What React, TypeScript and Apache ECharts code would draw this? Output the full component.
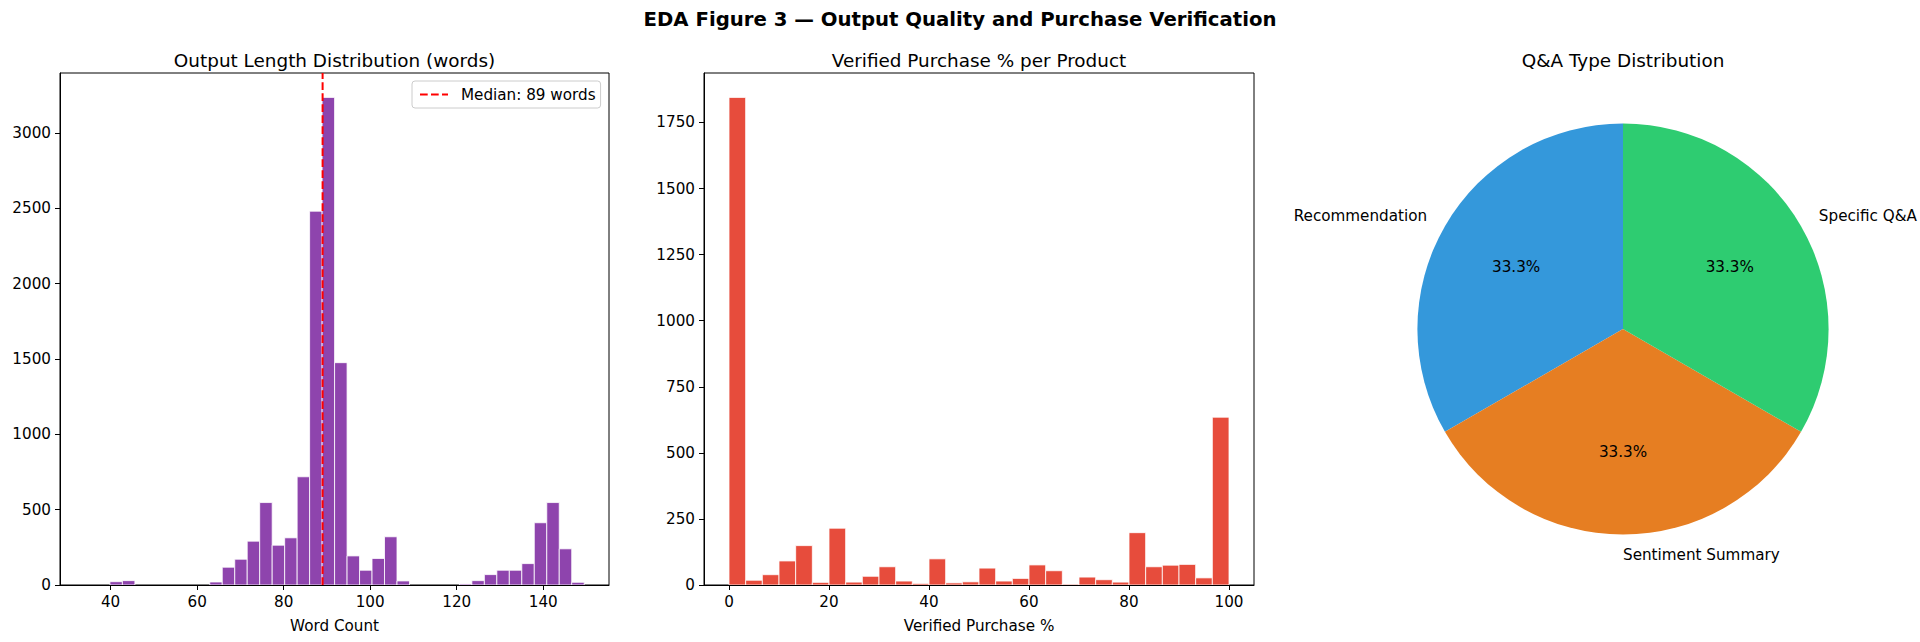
import React, { useEffect, useRef } from 'react';
import * as echarts from 'echarts';

// ---------- data ----------
const SUPTITLE = 'EDA Figure 3 — Output Quality and Purchase Verification';

// Panel 1: output length histogram (40 bins)
const LEN_TITLE = 'Output Length Distribution (words)';
const LEN_XLABEL = 'Word Count';
const LEN_BIN_MIN = 34.07;
const LEN_BIN_MAX = 149.47;
const LEN_COUNTS = [
  0, 0, 22, 29, 0, 0, 0, 0, 0, 0,
  20, 118, 171, 291, 547, 264, 313, 718, 2480, 3235,
  1475, 193, 98, 176, 320, 27, 0, 0, 0, 0,
  7, 29, 69, 98, 98, 142, 413, 547, 240, 18,
];
const LEN_MEDIAN = 89;
const LEN_MEDIAN_LABEL = 'Median: 89 words';
const LEN_X_RANGE = [28.3, 155.2];
const LEN_X_TICKS = [40, 60, 80, 100, 120, 140];
const LEN_Y_TICKS = [0, 500, 1000, 1500, 2000, 2500, 3000];

// Panel 2: verified purchase % histogram (30 bins)
const VP_TITLE = 'Verified Purchase % per Product';
const VP_XLABEL = 'Verified Purchase %';
const VP_BIN_MIN = 0;
const VP_BIN_MAX = 100;
const VP_COUNTS = [
  1845, 18, 39, 91, 149, 10, 215, 11, 33, 69,
  15, 6, 99, 8, 12, 64, 15, 25, 76, 54,
  3, 30, 20, 11, 198, 69, 75, 78, 27, 635,
];
const VP_X_RANGE = [-5, 105];
const VP_X_TICKS = [0, 20, 40, 60, 80, 100];
const VP_Y_TICKS = [0, 250, 500, 750, 1000, 1250, 1500, 1750];

// Panel 3: Q&A type pie
const QA_TITLE = 'Q&A Type Distribution';
const QA_TYPES = ['Recommendation', 'Sentiment Summary', 'Specific Q&A'];
const QA_VALUES = [1, 1, 1];
const QA_COLORS = ['#3498db', '#e67e22', '#2ecc71'];

// ---------- styling / layout ----------
const FONT = 'DejaVu Sans';
const TICK_FS = 15.2;
const TITLE_FS = 18.4;
const SUP_FS = 19.7;
const PURPLE = '#8e44ad';
const RED = '#e74c3c';
const DASH_ICON =
  'path://M0,0 L7.7,0 L7.7,2 L0,2 Z M11,0 L18.7,0 L18.7,2 L11,2 Z M22,0 L28,0 L28,2 L22,2 Z';

const G1 = { left: 60, top: 73, width: 549, height: 512 };
const G2 = { left: 704, top: 73, width: 550, height: 512 };
const PIE_C = [1623, 329];
const PIE_R = 205.6;

function histSeries(gi: number, min: number, max: number, counts: number[], color: string) {
  const w = (max - min) / counts.length;
  const data = counts.map((c, i) => [min + i * w, min + (i + 1) * w, c]);
  return {
    type: 'custom',
    xAxisIndex: gi,
    yAxisIndex: gi,
    data,
    encode: { x: [0, 1], y: 2 },
    silent: true,
    z: 2,
    renderItem: (_params: any, api: any) => {
      const c = api.value(2);
      if (!(c > 0)) return { type: 'group', children: [] };
      const p0 = api.coord([api.value(0), c]);
      const p1 = api.coord([api.value(1), 0]);
      return {
        type: 'rect',
        shape: { x: p0[0], y: p0[1], width: p1[0] - p0[0], height: p1[1] - p0[1] },
        style: { fill: color, stroke: '#ffffff', lineWidth: 0.8 },
      };
    },
  };
}

const plain = (v: number) => String(v);

function xAxis(gi: number, range: number[], ticks: number[], name: string) {
  return {
    type: 'value',
    gridIndex: gi,
    min: range[0],
    max: range[1],
    z: 5,
    axisLine: { show: true, onZero: false, lineStyle: { color: '#000', width: 1 } },
    axisTick: { show: true, length: 5, customValues: ticks, lineStyle: { color: '#000', width: 1 } },
    axisLabel: { customValues: ticks, formatter: plain, margin: 9, fontFamily: FONT, fontSize: TICK_FS, color: '#000' },
    splitLine: { show: false },
    name,
    nameLocation: 'middle',
    nameGap: 33,
    nameTextStyle: { fontFamily: FONT, fontSize: TICK_FS, color: '#000' },
  };
}

function yAxis(gi: number, max: number, ticks: number[]) {
  return {
    type: 'value',
    gridIndex: gi,
    min: 0,
    max,
    z: 5,
    axisLine: { show: true, onZero: false, lineStyle: { color: '#000', width: 1 } },
    axisTick: { show: true, length: 5, customValues: ticks, lineStyle: { color: '#000', width: 1 } },
    axisLabel: { customValues: ticks, formatter: plain, margin: 9, fontFamily: FONT, fontSize: TICK_FS, color: '#000' },
    splitLine: { show: false },
  };
}

function textEl(text: string, x: number, y: number, fs: number, align = 'center', bold = false) {
  return {
    type: 'text',
    x,
    y,
    z: 100,
    zlevel: 0,
    silent: true,
    style: {
      text,
      align,
      verticalAlign: 'middle',
      fontFamily: FONT,
      fontSize: fs,
      fontWeight: bold ? 'bold' : 'normal',
      fill: '#000',
    },
  };
}

function pieLabels() {
  const total = QA_VALUES.reduce((a, b) => a + b, 0);
  const els: any[] = [];
  let cum = 0;
  QA_VALUES.forEach((v, i) => {
    const mid = ((90 + ((cum + v / 2) / total) * 360) * Math.PI) / 180;
    cum += v;
    const cos = Math.cos(mid);
    const sin = Math.sin(mid);
    const lx = PIE_C[0] + 1.1 * PIE_R * cos;
    const ly = PIE_C[1] - 1.1 * PIE_R * sin;
    els.push(textEl(QA_TYPES[i], lx, ly, TICK_FS, cos < -1e-6 ? 'right' : 'left'));
    const px = PIE_C[0] + 0.6 * PIE_R * cos;
    const py = PIE_C[1] - 0.6 * PIE_R * sin;
    els.push(textEl(((v / total) * 100).toFixed(1) + '%', px, py, TICK_FS, 'center'));
  });
  return els;
}

export default function App() {
  const ref = useRef<HTMLDivElement>(null);
  useEffect(() => {
    const chart = echarts.init(ref.current!, null, { renderer: 'svg', width: 1920, height: 642 });
    const y1Max = Math.max(...LEN_COUNTS) * 1.05;
    const y2Max = Math.max(...VP_COUNTS) * 1.05;
    const option: any = {
      animation: false,
      backgroundColor: '#ffffff',
      grid: [
        { ...G1, show: true, borderColor: '#000', borderWidth: 1, backgroundColor: 'transparent', containLabel: false },
        { ...G2, show: true, borderColor: '#000', borderWidth: 1, backgroundColor: 'transparent', containLabel: false },
      ],
      xAxis: [xAxis(0, LEN_X_RANGE, LEN_X_TICKS, LEN_XLABEL), xAxis(1, VP_X_RANGE, VP_X_TICKS, VP_XLABEL)],
      yAxis: [yAxis(0, y1Max, LEN_Y_TICKS), yAxis(1, y2Max, VP_Y_TICKS)],
      legend: {
        data: [{ name: LEN_MEDIAN_LABEL, icon: DASH_ICON }],
        left: 412,
        top: 81,
        orient: 'vertical',
        itemWidth: 28,
        itemHeight: 14,
        padding: [6, 5, 6, 8],
        borderColor: '#cccccc',
        borderWidth: 1,
        borderRadius: 3,
        backgroundColor: 'rgba(255,255,255,0.8)',
        selectedMode: false,
        textStyle: { fontFamily: FONT, fontSize: TICK_FS, color: '#000', padding: [0, 0, 0, 8] },
      },
      series: [
        histSeries(0, LEN_BIN_MIN, LEN_BIN_MAX, LEN_COUNTS, PURPLE),
        {
          type: 'line',
          name: LEN_MEDIAN_LABEL,
          xAxisIndex: 0,
          yAxisIndex: 0,
          data: [
            [LEN_MEDIAN, 0],
            [LEN_MEDIAN, y1Max],
          ],
          symbol: 'none',
          silent: true,
          z: 4,
          itemStyle: { color: '#ff0000' },
          lineStyle: { color: '#ff0000', width: 2, type: [7.7, 3.3] },
        },
        histSeries(1, VP_BIN_MIN, VP_BIN_MAX, VP_COUNTS, RED),
        {
          type: 'pie',
          center: PIE_C,
          radius: PIE_R,
          startAngle: 90,
          clockwise: false,
          silent: true,
          z: 1,
          label: { show: false },
          labelLine: { show: false },
          emphasis: { disabled: true },
          data: QA_TYPES.map((n, i) => ({ name: n, value: QA_VALUES[i], itemStyle: { color: QA_COLORS[i] } })),
        },
      ],
      graphic: {
        elements: [
          textEl(SUPTITLE, 960, 19.5, SUP_FS, 'center', true),
          textEl(LEN_TITLE, G1.left + G1.width / 2, 60, TITLE_FS),
          textEl(VP_TITLE, G2.left + G2.width / 2, 60, TITLE_FS),
          textEl(QA_TITLE, PIE_C[0], 60, TITLE_FS),
          ...pieLabels(),
        ],
      },
    };
    chart.setOption(option);
    return () => chart.dispose();
  }, []);
  return (
    <div
      ref={ref}
      style={{ position: 'fixed', left: 0, top: 0, width: 1920, height: 642, background: '#fff' }}
    />
  );
}
